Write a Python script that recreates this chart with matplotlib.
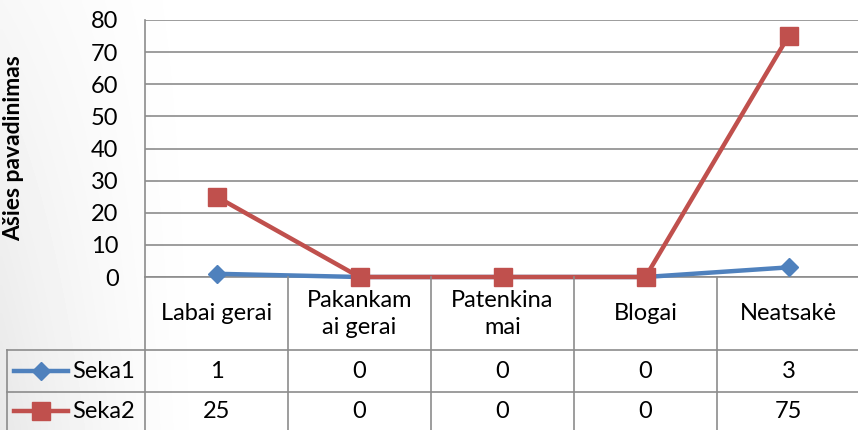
import numpy as np
import matplotlib.pyplot as plt
import matplotlib.transforms as mtransforms
from matplotlib.lines import Line2D

plt.rcParams['font.family'] = ['Lato', 'DejaVu Sans']

# data
categories = ['Labai gerai', 'Pakankam\nai gerai', 'Patenkina\nmai', 'Blogai', 'Neatsakė']
seka1 = [1, 0, 0, 0, 3]
seka2 = [25, 0, 0, 0, 75]
series_names = ['Seka1', 'Seka2']
yticks = [0, 10, 20, 30, 40, 50, 60, 70, 80]

blue = '#4F81BD'
red = '#C0504D'
grid_c = '#8C8C8C'

W, H = 858, 430
fig = plt.figure(figsize=(W / 100, H / 100), dpi=100)

# faint grey shading on the left side of the slide
bg = fig.add_axes([0, 0, 1, 1], zorder=-10)
gx = np.linspace(0, 1, 200)
gy = np.linspace(1, 0, 100)
GX, GY = np.meshgrid(gx, gy)
shade = np.clip(1 - GX / 0.25, 0, 1) ** 1.5 * (0.35 + 0.65 * (1 - GY))
bg.imshow(1 - 0.09 * shade, cmap='gray', vmin=0, vmax=1, aspect='auto',
          extent=[0, 1, 0, 1], interpolation='bilinear')
bg.set_axis_off()

def fx(px):
    return px / W

def fy(py):
    return 1 - py / H

ax = fig.add_axes([fx(145), fy(277), fx(860) - fx(145), fy(20) - fy(277)])
ax.patch.set_alpha(0)
x = np.arange(len(categories))
ax.plot(x, seka1, color=blue, lw=3.2, marker='D', ms=9, zorder=3, clip_on=False)
ax.plot(x, seka2, color=red, lw=3.2, marker='s', ms=13, zorder=4, clip_on=False)

ax.set_xlim(-0.5, len(categories) - 0.5)
ax.set_ylim(0, 80)
ax.set_yticks(yticks)
ax.set_xticks([])
ax.tick_params(axis='y', length=0, pad=19, labelsize=17)
ax.yaxis.grid(True, color=grid_c, lw=1.2)
ax.set_axisbelow(True)
for s in ['top', 'right']:
    ax.spines[s].set_visible(False)
for s in ['left', 'bottom']:
    ax.spines[s].set_color(grid_c)
    ax.spines[s].set_linewidth(1.2)

fig.text(fx(14), fy(148), 'Ašies pavadinimas', rotation=90, ha='center', va='center',
         fontsize=16.5, fontweight='bold')

# data table under the plot
tr = mtransforms.blended_transform_factory(ax.transData, fig.transFigure)
left = -0.5 - (145 - 7) / 143.0
row_y = [fy(350), fy(392)]
for i in range(len(categories) + 1):
    fig.add_artist(Line2D([i - 0.5, i - 0.5], [0, fy(277)], transform=tr,
                          color=grid_c, lw=1.2))
fig.add_artist(Line2D([left, left], [0, row_y[0]], transform=tr, color=grid_c, lw=1.2))
for yy in row_y:
    fig.add_artist(Line2D([left, len(categories) - 0.5], [yy, yy], transform=tr,
                          color=grid_c, lw=1.2))

for i, c in enumerate(categories):
    fig.text(i, fy(314), c, transform=tr, ha='center', va='center', fontsize=17,
             linespacing=1.35)

rows = [seka1, seka2]
row_mid = [fy(371), fy(411)]
for vals, ym in zip(rows, row_mid):
    for i, v in enumerate(vals):
        fig.text(i, ym, str(v), transform=tr, ha='center', va='center', fontsize=17)

# legend keys in the row headers
keys = [(blue, 'D', 9), (red, 's', 13)]
for (col, mk, ms), name, ym in zip(keys, series_names, row_mid):
    fig.add_artist(Line2D([fx(14), fx(68)], [ym, ym], color=col, lw=3.2))
    fig.add_artist(Line2D([fx(41)], [ym], color=col, marker=mk, ms=ms, lw=0))
    fig.text(fx(72), ym, name, ha='left', va='center', fontsize=17)

fig.savefig('out.png', dpi=100)
